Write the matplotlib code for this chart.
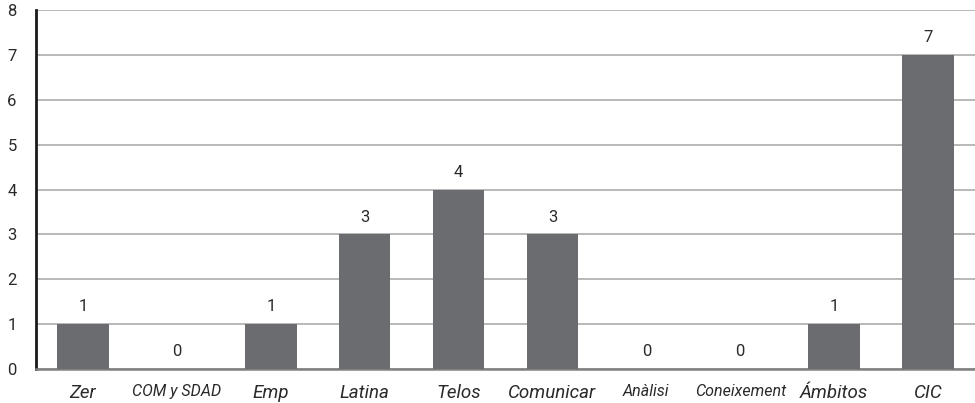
import matplotlib
matplotlib.use("Agg")
import matplotlib.pyplot as plt

categories = ["Zer", "COM y SDAD", "Emp", "Latina", "Telos", "Comunicar",
              "Anàlisi", "Coneixement", "Ámbitos", "CIC"]
values = [1, 0, 1, 3, 4, 3, 0, 0, 1, 7]
small_labels = {"COM y SDAD", "Anàlisi", "Coneixement"}

plt.rcParams['font.family'] = ['Roboto', 'DejaVu Sans']

fig = plt.figure(figsize=(9.75, 4.03), dpi=100)
ax = fig.add_axes([36/975, 34/403, 1 - 36/975, 359/403])

x = list(range(len(categories)))
bars = ax.bar(x, values, width=0.55, color="#6b6c70", zorder=3)
for xi, v in zip(x, values):
    ax.text(xi, v + 0.22, str(v), ha="center", va="bottom", fontsize=12,
            color="#2a2a2a")

ax.set_xlim(-0.5, 9.5)
ax.set_ylim(0, 8)
ax.set_yticks(range(0, 9))
ax.yaxis.grid(True, color="#a6a6a6", linewidth=1.1, zorder=0)
ax.set_axisbelow(True)

for s in ["top", "right"]:
    ax.spines[s].set_visible(False)
ax.spines["left"].set_color("#1a1a1a")
ax.spines["left"].set_linewidth(2)
ax.spines["bottom"].set_color("#808080")
ax.spines["bottom"].set_linewidth(1.8)
ax.tick_params(axis="y", length=0, pad=14, labelsize=12, labelcolor="#2a2a2a")
ax.tick_params(axis="x", length=0, pad=11)
ax.set_xticks(x)
ax.set_xticklabels(categories)
for lbl in ax.get_xticklabels():
    lbl.set_style("italic")
    lbl.set_color("#2a2a2a")
    lbl.set_fontsize(11.5 if lbl.get_text() in small_labels else 13.5)

fig.savefig("out.png", dpi=100)
